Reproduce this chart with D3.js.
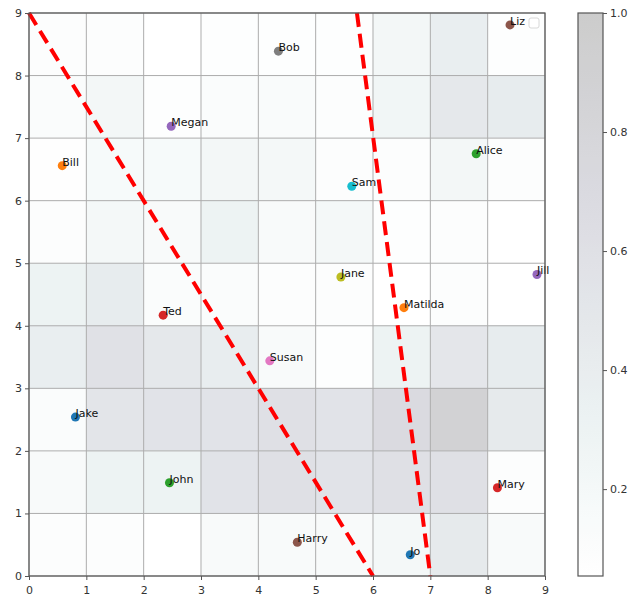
<!DOCTYPE html>
<html>
<head>
    <script src="https://d3js.org/d3.v7.min.js"></script>
    <style>
        body { margin: 0; background: white; }
        text { font-family: "DejaVu Sans", sans-serif; }
    </style>
</head>
<body>
    <div id="viz"></div>
    <script>
        // names and positions of the people
        const names = ['Jake', 'Bill', 'John', 'Ted', 'Megan', 'Liz', 'Susan', 'Bob',
                       'Jane', 'Sam', 'Jo', 'Matilda', 'Alice', 'Mary', 'Jill', 'Harry'];
        const xs = [0.81, 0.58, 2.45, 2.34, 2.48, 8.39, 4.2, 4.35, 5.44, 5.63, 6.65, 6.54, 7.8, 8.17, 8.86, 4.68];
        const ys = [2.54, 6.56, 1.49, 4.17, 7.19, 8.81, 3.44, 8.39, 4.78, 6.23, 0.34, 4.29, 6.75, 1.41, 4.82, 0.54];

        // heatmap cells, top row (y 8-9) first, columns x 0-1 ... 8-9
        const cellValues = [
            [0.10, 0.10, 0.05, 0.08, 0.08, 0.08, 0.22, 0.38, 0.08],
            [0.12, 0.22, 0.08, 0.12, 0.13, 0.10, 0.25, 0.48, 0.42],
            [0.07, 0.17, 0.17, 0.22, 0.20, 0.10, 0.10, 0.22, 0.10],
            [0.10, 0.20, 0.15, 0.30, 0.15, 0.20, 0.08, 0.10, 0.06],
            [0.30, 0.42, 0.12, 0.12, 0.10, 0.10, 0.05, 0.10, 0.05],
            [0.38, 0.58, 0.47, 0.40, 0.15, 0.08, 0.30, 0.50, 0.42],
            [0.12, 0.52, 0.55, 0.55, 0.60, 0.55, 0.70, 0.88, 0.45],
            [0.15, 0.30, 0.30, 0.55, 0.60, 0.55, 0.60, 0.60, 0.10],
            [0.10, 0.10, 0.05, 0.15, 0.15, 0.15, 0.20, 0.45, 0.15]
        ];

        // dashed lines: [x1, y1, x2, y2]
        const dashLines = [[0, 9, 6, 0], [5.72, 9, 7, 0]];

        const xTicks = [0, 1, 2, 3, 4, 5, 6, 7, 8, 9];
        const yTicks = [0, 1, 2, 3, 4, 5, 6, 7, 8, 9];
        const cbTicks = [0.2, 0.4, 0.6, 0.8, 1.0];
        const vmin = 0.054, vmax = 1.0;

        const width = 632, height = 597;
        const svg = d3.select('#viz').append('svg')
            .attr('width', width).attr('height', height);

        const x = d3.scaleLinear().domain([0, 9]).range([29, 545]);
        const y = d3.scaleLinear().domain([0, 9]).range([576, 13]);

        // matplotlib "bone" colormap, reversed, drawn at alpha 0.2 over white
        const boneData = {
            r: [[0, 0], [0.746032, 0.652778], [1, 1]],
            g: [[0, 0], [0.365079, 0.319444], [0.746032, 0.777778], [1, 1]],
            b: [[0, 0], [0.365079, 0.444444], [1, 1]]
        };
        function interp(pts, t) {
            for (let i = 1; i < pts.length; i++) {
                if (t <= pts[i][0]) {
                    const f = (t - pts[i - 1][0]) / (pts[i][0] - pts[i - 1][0]);
                    return pts[i - 1][1] + f * (pts[i][1] - pts[i - 1][1]);
                }
            }
            return 1;
        }
        function color(v) {
            const t = 1 - (v - vmin) / (vmax - vmin);
            const tt = Math.max(0, Math.min(1, t));
            const a = 0.2;
            const c = ['r', 'g', 'b'].map(k => Math.round(255 * (1 - a) + 255 * a * interp(boneData[k], tt)));
            return `rgb(${c[0]},${c[1]},${c[2]})`;
        }

        const cells = [];
        cellValues.forEach((row, r) => row.forEach((v, c) => cells.push({ col: c, row: 8 - r, v })));

        svg.append('g').selectAll('rect')
            .data(cells).enter().append('rect')
            .attr('x', d => x(d.col))
            .attr('y', d => y(d.row + 1))
            .attr('width', d => x(d.col + 1) - x(d.col))
            .attr('height', d => y(d.row) - y(d.row + 1))
            .attr('fill', d => color(d.v))
            .attr('stroke', d => color(d.v))
            .attr('stroke-width', 0.5);

        // grid
        const grid = svg.append('g').attr('stroke', '#adadad').attr('stroke-width', 1);
        xTicks.forEach(t => grid.append('line')
            .attr('x1', x(t)).attr('x2', x(t)).attr('y1', y(0)).attr('y2', y(9)));
        yTicks.forEach(t => grid.append('line')
            .attr('y1', y(t)).attr('y2', y(t)).attr('x1', x(0)).attr('x2', x(9)));

        // red dashed lines
        svg.append('g').selectAll('line')
            .data(dashLines).enter().append('line')
            .attr('x1', d => x(d[0])).attr('y1', d => y(d[1]))
            .attr('x2', d => x(d[2])).attr('y2', d => y(d[3]))
            .attr('stroke', '#ff0000')
            .attr('stroke-width', 4)
            .attr('stroke-dasharray', '14,7');

        // points and labels
        const people = names.map((n, i) => ({ name: n, x: xs[i], y: ys[i], c: d3.schemeCategory10[i % 10] }));
        svg.append('g').selectAll('circle')
            .data(people).enter().append('circle')
            .attr('cx', d => x(d.x)).attr('cy', d => y(d.y))
            .attr('r', 4.5)
            .attr('fill', d => d.c);
        svg.append('g').selectAll('text')
            .data(people).enter().append('text')
            .attr('x', d => x(d.x)).attr('y', d => y(d.y))
            .attr('font-size', 11)
            .attr('fill', '#111')
            .text(d => d.name);

        // empty legend box
        svg.append('rect')
            .attr('x', 529).attr('y', 18).attr('width', 10).attr('height', 10)
            .attr('rx', 2)
            .attr('fill', 'white').attr('stroke', '#d8d8d8');

        // axes
        const xAxis = svg.append('g').attr('transform', `translate(0,${y(0)})`)
            .call(d3.axisBottom(x).tickValues(xTicks).tickSize(4).tickFormat(d3.format('d')));
        const yAxis = svg.append('g').attr('transform', `translate(${x(0)},0)`)
            .call(d3.axisLeft(y).tickValues(yTicks).tickSize(4).tickFormat(d3.format('d')));
        [xAxis, yAxis].forEach(a => {
            a.select('.domain').remove();
            a.selectAll('text').attr('font-size', 11).attr('fill', '#333');
            a.selectAll('line').attr('stroke', '#555');
        });
        xAxis.selectAll('text').attr('dy', '1em');
        svg.append('rect')
            .attr('x', x(0)).attr('y', y(9))
            .attr('width', x(9) - x(0)).attr('height', y(0) - y(9))
            .attr('fill', 'none').attr('stroke', '#555').attr('stroke-width', 1.2);

        // colorbar
        const cbX = 578, cbW = 25;
        const cb = d3.scaleLinear().domain([vmin, vmax]).range([576, 13]);
        const grad = svg.append('defs').append('linearGradient')
            .attr('id', 'cbgrad').attr('x1', 0).attr('y1', 1).attr('x2', 0).attr('y2', 0);
        d3.range(0, 1.0001, 0.02).forEach(f => grad.append('stop')
            .attr('offset', f).attr('stop-color', color(vmin + f * (vmax - vmin))));
        svg.append('rect')
            .attr('x', cbX).attr('y', cb(vmax))
            .attr('width', cbW).attr('height', cb(vmin) - cb(vmax))
            .attr('fill', 'url(#cbgrad)')
            .attr('stroke', '#555').attr('stroke-width', 1.2);
        const cbAxis = svg.append('g').attr('transform', `translate(${cbX + cbW},0)`)
            .call(d3.axisRight(cb).tickValues(cbTicks).tickSize(4).tickFormat(d3.format('.1f')));
        cbAxis.select('.domain').remove();
        cbAxis.selectAll('text').attr('font-size', 11).attr('fill', '#333');
        cbAxis.selectAll('line').attr('stroke', '#555');
    </script>
</body>
</html>
